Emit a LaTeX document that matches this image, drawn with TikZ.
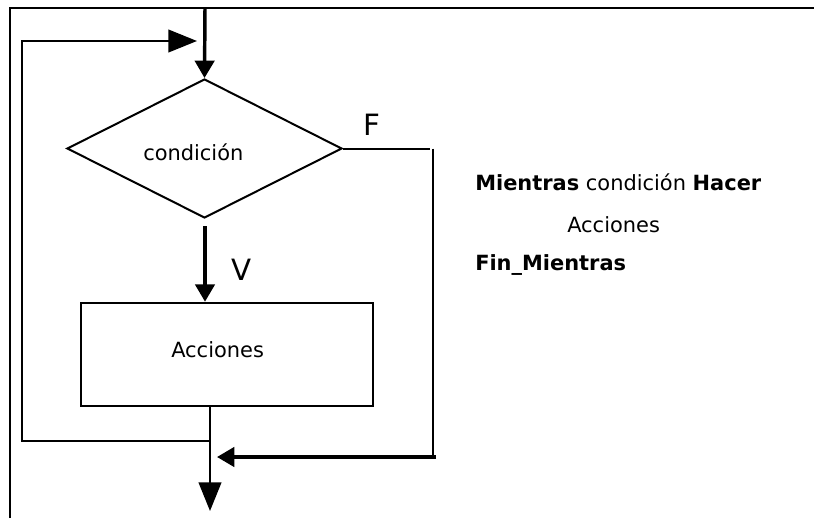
\documentclass[tikz,border=0pt]{standalone}
\usepackage{fontspec}
\setmainfont{DejaVu Sans}
\usetikzlibrary{arrows.meta,shapes.geometric}
\tikzset{
  thinln/.style={line width=1.5pt},
  midln/.style={line width=1.8pt},
  thickln/.style={line width=2.6pt},
  smalltip/.style={-{Triangle[length=13pt,width=14.5pt]}},
  bigtip/.style={-{Triangle[length=21.5pt,width=17pt]}},
  txt/.style={font=\fontsize{15.7pt}{18pt}\selectfont, inner sep=0pt, anchor=base west},
  lbl/.style={font=\fontsize{22pt}{26pt}\selectfont, inner sep=0pt, anchor=base west},
}
\begin{document}
\begin{tikzpicture}[x=0.75pt,y=-0.75pt]
\useasboundingbox (0,0) rectangle (814,518);
% frame
\coordinate (fbl) at (10,518);
\coordinate (ftl) at (10,8);
\coordinate (ftr) at (814,8);
\draw[midln] (fbl) -- (ftl) -- (ftr);
% shapes
\node[draw, thinln, diamond, inner sep=0pt, minimum width=206.25pt, minimum height=104.25pt] (cond) at (204.5,148.5) {};
\node[draw, thinln, rectangle, inner sep=0pt, minimum width=219pt, minimum height=77.25pt] (acc) at (227,354.2) {};
\node[txt] (tcond) at (143,160) {condición};
\node[txt] (tacc) at (171,357.7) {Acciones};
% top entry arrow
\coordinate (top) at (205,8);
\draw[thickln, smalltip] (top) -- (cond.north);
% V arrow
\coordinate (vstart) at (205,226);
\draw[thickln, smalltip] (vstart) -- (vstart |- acc.north);
\node[lbl] (V) at (231,280) {V};
% F branch
\node[lbl] (F) at (363,135) {F};
\coordinate (fr) at (430,148.5);
\coordinate (fvt) at (433,148.5);
\coordinate (fvb) at (433,457);
\coordinate (fhr) at (436,457);
\coordinate (fhl) at (217,457);
\draw[thinln] (cond.east) -- (fr);
\draw[midln] (fvt) -- (fvb);
\draw[thickln, smalltip] (fhr) -- (fhl);
% exit from box
\coordinate (bstart) at (210,405.7);
\coordinate (bend) at (210,511);
\draw[thinln, bigtip] (bstart) -- (bend);
% loop back
\coordinate (l1) at (210,441);
\coordinate (l2) at (22,441);
\coordinate (l3) at (22,41);
\coordinate (l4) at (197,41);
\draw[thinln, bigtip] (l1) -- (l2) -- (l3) -- (l4);
% pseudo code
\node[txt] (p1) at (475,190) {\textbf{Mientras} condición \textbf{Hacer}};
\node[txt] (p2) at (567,232.7) {Acciones};
\node[txt] (p3) at (475,270) {\textbf{Fin\_Mientras}};
\end{tikzpicture}
\end{document}
